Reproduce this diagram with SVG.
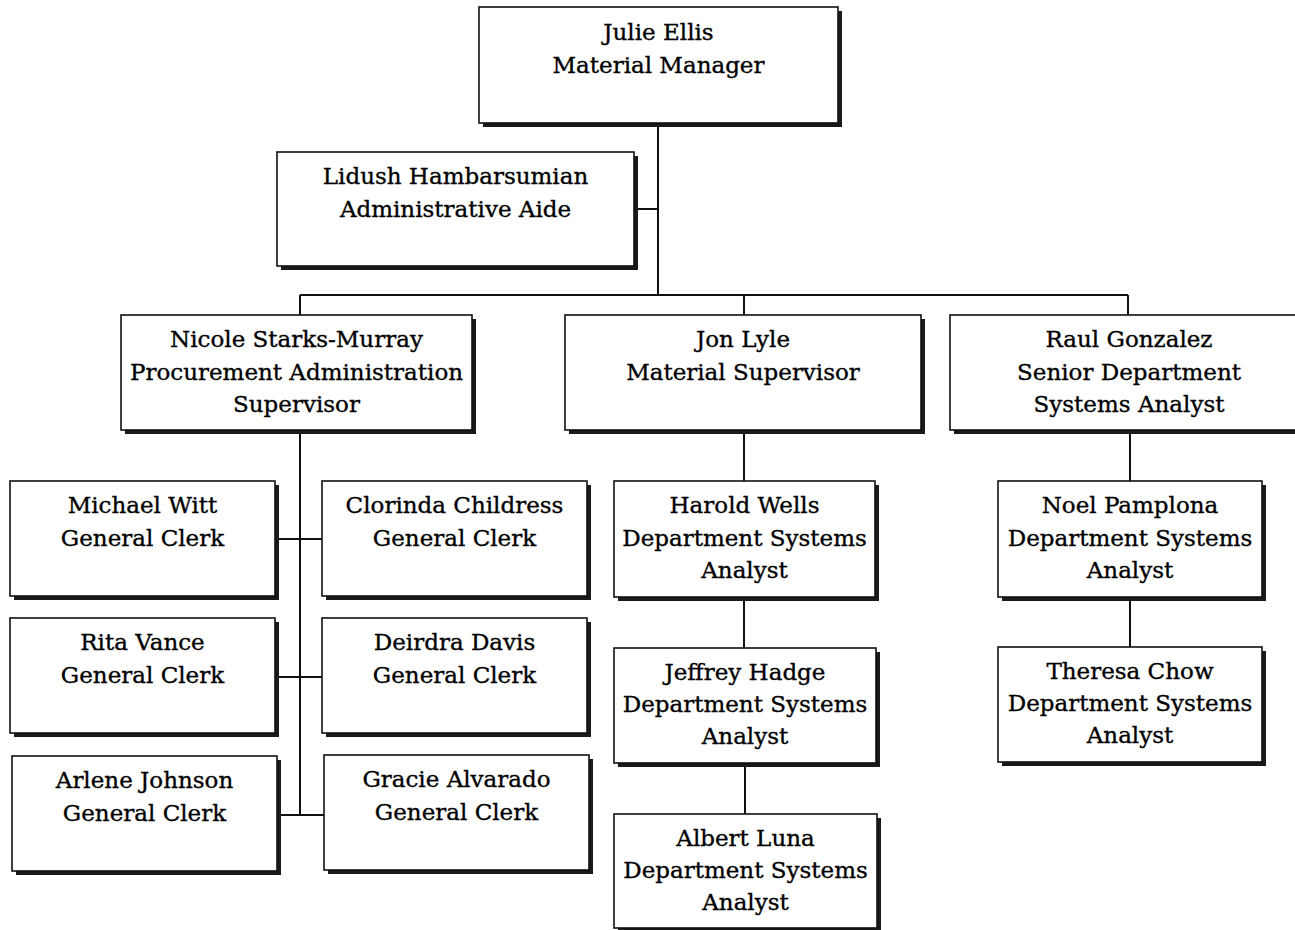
<svg xmlns="http://www.w3.org/2000/svg" width="1295" height="930" viewBox="0 0 1295 930">
<defs>
<style>
.sh{fill:#1a1a1a}
.bx{fill:#fff;stroke:#111;stroke-width:1.6}
.t{font-family:"DejaVu Serif","Liberation Serif",serif;font-size:23px;fill:#000;stroke:#000;stroke-width:0.35;text-anchor:middle}
.c{stroke:#111;stroke-width:2;fill:none}
</style>
</defs>
<rect width="1295" height="930" fill="#fff"/>
<g id="connectors">
<path class="c" d="M658 123V295M634 209H658M300 295H1128M300 295V315M744 295V315M1128 295V315"/>
<path class="c" d="M300 430V815M275 539H322M275 677H322M277 815H324"/>
<path class="c" d="M744 430V481M744 597V648M745 763V814"/>
<path class="c" d="M1130 430V481M1130 597V647"/>
</g>
<g id="julie"><rect class="sh" x="483" y="11" width="359" height="116"/><rect class="bx" x="479" y="7" width="359" height="116"/><text class="t" x="658.5"><tspan x="658.5" y="40">Julie Ellis</tspan><tspan x="658.5" y="73">Material Manager</tspan></text></g>
<g id="lidush"><rect class="sh" x="281" y="156" width="357" height="114"/><rect class="bx" x="277" y="152" width="357" height="114"/><text class="t"><tspan x="455.5" y="184">Lidush Hambarsumian</tspan><tspan x="455.5" y="217">Administrative Aide</tspan></text></g>
<g id="nicole"><rect class="sh" x="125" y="319" width="351" height="115"/><rect class="bx" x="121" y="315" width="351" height="115"/><text class="t"><tspan x="296.5" y="347">Nicole Starks-Murray</tspan><tspan x="296.5" y="380">Procurement Administration</tspan><tspan x="296.5" y="412">Supervisor</tspan></text></g>
<g id="jon"><rect class="sh" x="569" y="319" width="356" height="115"/><rect class="bx" x="565" y="315" width="356" height="115"/><text class="t"><tspan x="743" y="347">Jon Lyle</tspan><tspan x="743" y="380">Material Supervisor</tspan></text></g>
<g id="raul"><rect class="sh" x="954" y="319" width="358" height="115"/><rect class="bx" x="950" y="315" width="358" height="115"/><text class="t"><tspan x="1129" y="347">Raul Gonzalez</tspan><tspan x="1129" y="380">Senior Department</tspan><tspan x="1129" y="412">Systems Analyst</tspan></text></g>
<g id="michael"><rect class="sh" x="14" y="485" width="265" height="115"/><rect class="bx" x="10" y="481" width="265" height="115"/><text class="t"><tspan x="142.5" y="513">Michael Witt</tspan><tspan x="142.5" y="546">General Clerk</tspan></text></g>
<g id="clorinda"><rect class="sh" x="326" y="485" width="265" height="115"/><rect class="bx" x="322" y="481" width="265" height="115"/><text class="t"><tspan x="454.5" y="513">Clorinda Childress</tspan><tspan x="454.5" y="546">General Clerk</tspan></text></g>
<g id="rita"><rect class="sh" x="14" y="622" width="265" height="115"/><rect class="bx" x="10" y="618" width="265" height="115"/><text class="t"><tspan x="142.5" y="650">Rita Vance</tspan><tspan x="142.5" y="683">General Clerk</tspan></text></g>
<g id="deirdra"><rect class="sh" x="326" y="622" width="265" height="115"/><rect class="bx" x="322" y="618" width="265" height="115"/><text class="t"><tspan x="454.5" y="650">Deirdra Davis</tspan><tspan x="454.5" y="683">General Clerk</tspan></text></g>
<g id="arlene"><rect class="sh" x="16" y="760" width="265" height="115"/><rect class="bx" x="12" y="756" width="265" height="115"/><text class="t"><tspan x="144.5" y="788">Arlene Johnson</tspan><tspan x="144.5" y="821">General Clerk</tspan></text></g>
<g id="gracie"><rect class="sh" x="328" y="759" width="265" height="115"/><rect class="bx" x="324" y="755" width="265" height="115"/><text class="t"><tspan x="456.5" y="787">Gracie Alvarado</tspan><tspan x="456.5" y="820">General Clerk</tspan></text></g>
<g id="harold"><rect class="sh" x="618" y="485" width="261" height="116"/><rect class="bx" x="614" y="481" width="261" height="116"/><text class="t"><tspan x="744.5" y="513">Harold Wells</tspan><tspan x="744.5" y="546">Department Systems</tspan><tspan x="744.5" y="578">Analyst</tspan></text></g>
<g id="jeffrey"><rect class="sh" x="618" y="652" width="262" height="115"/><rect class="bx" x="614" y="648" width="262" height="115"/><text class="t"><tspan x="745" y="680">Jeffrey Hadge</tspan><tspan x="745" y="712">Department Systems</tspan><tspan x="745" y="744">Analyst</tspan></text></g>
<g id="albert"><rect class="sh" x="618" y="818" width="263" height="114"/><rect class="bx" x="614" y="814" width="263" height="114"/><text class="t"><tspan x="745.5" y="846">Albert Luna</tspan><tspan x="745.5" y="878">Department Systems</tspan><tspan x="745.5" y="910">Analyst</tspan></text></g>
<g id="noel"><rect class="sh" x="1002" y="485" width="264" height="116"/><rect class="bx" x="998" y="481" width="264" height="116"/><text class="t"><tspan x="1130" y="513">Noel Pamplona</tspan><tspan x="1130" y="546">Department Systems</tspan><tspan x="1130" y="578">Analyst</tspan></text></g>
<g id="theresa"><rect class="sh" x="1002" y="651" width="264" height="115"/><rect class="bx" x="998" y="647" width="264" height="115"/><text class="t"><tspan x="1130" y="679">Theresa Chow</tspan><tspan x="1130" y="711">Department Systems</tspan><tspan x="1130" y="743">Analyst</tspan></text></g>
</svg>
